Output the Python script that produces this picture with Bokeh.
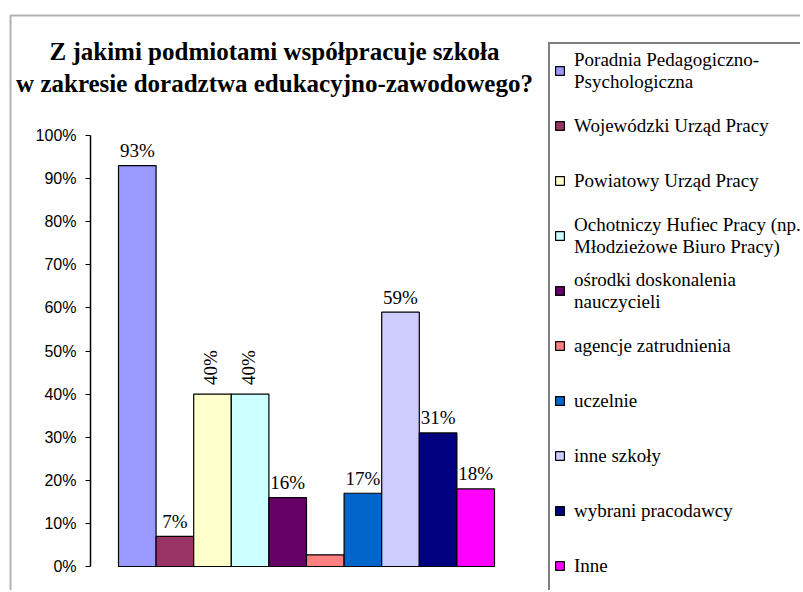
from bokeh.plotting import figure
from bokeh.models import (ColumnDataSource, Range1d, Legend, LegendItem, BoxAnnotation,
                          NumeralTickFormatter, FixedTicker, Label)
from bokeh.embed import file_html
from bokeh.resources import INLINE
from bokeh.core.properties import value
import math

# ---- data ----
categories = [
    "Poradnia Pedagogiczno-\nPsychologiczna",
    "Wojewódzki Urząd Pracy",
    "Powiatowy Urząd Pracy",
    "Ochotniczy Hufiec Pracy (np.\nMłodzieżowe Biuro Pracy)",
    "ośrodki doskonalenia\nnauczycieli",
    "agencje zatrudnienia",
    "uczelnie",
    "inne szkoły",
    "wybrani pracodawcy",
    "Inne",
]
values = [0.93, 0.07, 0.40, 0.40, 0.16, 0.027, 0.17, 0.59, 0.31, 0.18]
value_labels = ["93%", "7%", "40%", "40%", "16%", "", "17%", "59%", "31%", "18%"]
y_ticks = [0.0, 0.1, 0.2, 0.3, 0.4, 0.5, 0.6, 0.7, 0.8, 0.9, 1.0]
title_lines = ["Z jakimi podmiotami współpracuje szkoła",
               "w zakresie doradztwa edukacyjno-zawodowego?"]

# ---- styles / layout ----
colors = ["#9999FF", "#993366", "#FFFFCC", "#CCFFFF", "#660066",
          "#FF8080", "#0066CC", "#CCCCFF", "#000080", "#FF00FF"]
rotated = {2, 3}
W, H = 800, 590
PX_PER_BAR = 37.6      # pixels per category slot
X0_PX = 136.8          # pixel position of the first bar centre
Y0_PX = 566.0          # pixel position of 0 %
PX_PER_UNIT = 431.0    # pixels for 100 %
AXIS_PX = 90.0

xs = list(range(len(categories)))

x_start = -X0_PX / PX_PER_BAR
x_end = x_start + W / PX_PER_BAR
y_start = -(H - Y0_PX) / PX_PER_UNIT
y_end = Y0_PX / PX_PER_UNIT

p = figure(width=W, height=H, output_backend="svg", toolbar_location=None,
           x_range=Range1d(x_start, x_end), y_range=Range1d(y_start, y_end),
           min_border=0, min_border_left=0, min_border_right=0,
           min_border_top=0, min_border_bottom=0, title=None)
p.outline_line_color = None
p.xgrid.visible = False
p.ygrid.visible = False
p.xaxis.visible = False

ya = p.yaxis[0]
ya.fixed_location = x_start + AXIS_PX / PX_PER_BAR
ya.bounds = (y_ticks[0], y_ticks[-1])
ya.ticker = FixedTicker(ticks=y_ticks)
ya.formatter = NumeralTickFormatter(format="0%")
ya.major_label_text_font = "Liberation Sans"
ya.major_label_text_font_size = "16px"
ya.major_label_text_color = "black"
ya.major_tick_out = 5
ya.major_tick_in = 0
ya.minor_tick_out = 0
ya.minor_tick_in = 0
ya.axis_line_color = "black"
ya.axis_line_width = 1.5
ya.major_tick_line_color = "black"
ya.major_label_standoff = 9

# outer chart frame (top and left edges visible)
p.add_layout(BoxAnnotation(left=10, top=15, right=2000, bottom=2000,
                           left_units="canvas", right_units="canvas",
                           top_units="canvas", bottom_units="canvas",
                           fill_alpha=0, line_color="black", line_width=2))

# title
for line, base in zip(title_lines, [51, 83]):
    p.add_layout(Label(x=274, y=H - base, x_units="screen", y_units="screen", text=line,
                       text_align="center", text_baseline="alphabetic",
                       text_font="Liberation Serif", text_font_style="bold",
                       text_font_size="25px", text_color="black"))

src = ColumnDataSource(dict(x=xs, top=values, color=colors, cat=categories))
bars = p.vbar(x="x", top="top", width=1.0, bottom=0, source=src,
              fill_color="color", line_color="black", line_width=1.2)

hx = [x for x in xs if x not in rotated]
p.text(x=[xs[i] for i in hx], y=[values[i] for i in hx], text=[value_labels[i] for i in hx],
       text_font=value("Liberation Serif"), text_font_size="19px",
       text_align="center", text_baseline="alphabetic", y_offset=-15, text_color="black")
p.text(x=[xs[i] for i in rotated], y=[values[i] for i in rotated],
       text=[value_labels[i] for i in rotated], angle=math.pi / 2,
       text_font=value("Liberation Serif"), text_font_size="19px",
       text_align="left", text_baseline="middle", y_offset=-9, x_offset=-2, text_color="black")

items = [LegendItem(label=categories[i], renderers=[bars], index=i) for i in xs]
legend = Legend(items=items, location=(548, -4),
                label_text_font="Liberation Serif", label_text_font_size="19px",
                label_text_color="black", label_height=45, label_width=250,
                glyph_width=11, glyph_height=11, label_standoff=9,
                spacing=10, padding=4, border_line_color="black", border_line_width=2,
                background_fill_alpha=1.0)
p.add_layout(legend, "center")

open("out.html", "w").write(file_html(p, INLINE))
